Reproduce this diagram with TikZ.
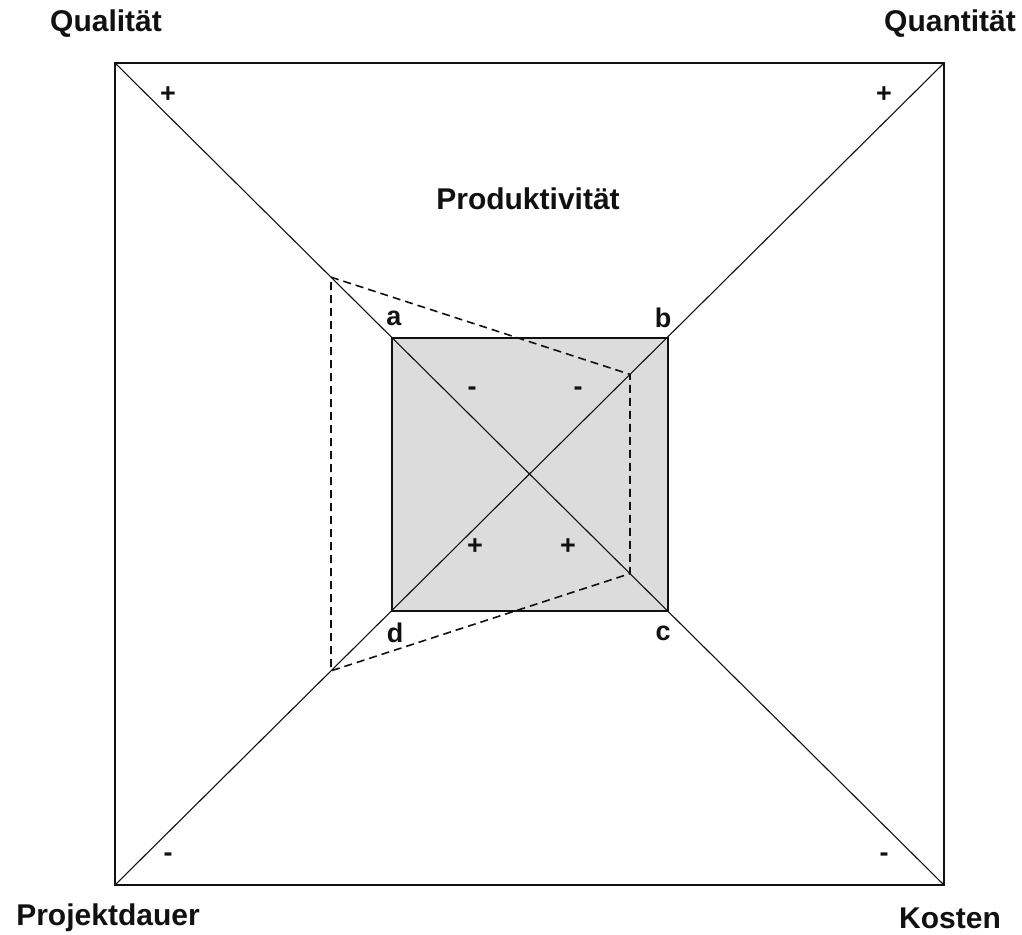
\documentclass[tikz,border=0pt]{standalone}
\usepackage{fontspec}
\setmainfont{Liberation Sans}
\usepackage{tikz}
\usepackage{xcolor}
\usetikzlibrary{positioning, calc}
\definecolor{boxgrey}{HTML}{DCDCDC}
\definecolor{ink}{HTML}{111111}

\begin{document}
\begin{tikzpicture}[x=1pt, y=-1pt,
    axislabel/.style={font=\fontsize{30}{32}\selectfont\bfseries, text=ink, inner sep=0pt},
    corner/.style={font=\fontsize{27}{28}\selectfont\bfseries, text=ink, inner sep=0pt},
    sign/.style={font=\fontsize{27}{28}\selectfont\bfseries, text=ink, inner sep=0pt},
    frame/.style={draw=ink, line width=2pt},
    diag/.style={draw=ink, line width=1.1pt},
    shiftline/.style={draw=ink, line width=1.6pt, dash pattern=on 8pt off 5pt}]
    \useasboundingbox (0,0) rectangle (1022,934);
    % outer corners
    \coordinate (ql) at (115,63);
    \coordinate (qn) at (944,63);
    \coordinate (ko) at (944,885);
    \coordinate (pd) at (115,885);
    % inner square
    \coordinate (a) at (392,338);
    \coordinate (b) at (668,338);
    \coordinate (c) at (668,611);
    \coordinate (d) at (392,611);
    % shifted quadrilateral on the diagonals
    \coordinate (sa) at ($(ql)!0.2605!(ko)$);
    \coordinate (sb) at ($(qn)!0.3788!(pd)$);
    \coordinate (sc) at ($(ql)!0.6212!(ko)$);
    \coordinate (sd) at ($(qn)!0.7395!(pd)$);
    \fill[boxgrey] (a) rectangle (c);
    \draw[frame] (ql) -- (qn) -- (ko) -- (pd) -- cycle;
    \draw[diag] (ql) -- (ko);
    \draw[diag] (qn) -- (pd);
    \draw[frame] (a) -- (b) -- (c) -- (d) -- cycle;
    \draw[shiftline] (sa) -- (sb) -- (sc) -- (sd) -- cycle;
    % labels
    \node[axislabel] (lql) at (106,24) {Qualität};
    \node[axislabel] (lqn) at (950,24) {Quantität};
    \node[axislabel] (lpd) at (108,918) {Projektdauer};
    \node[axislabel] (lko) at (950,918) {Kosten};
    \node[axislabel] (lpr) at (528,199) {Produktivität};
    \node[corner] (la) at (394,318) {a};
    \node[corner] (lb) at (663,318) {b};
    \node[corner] (lc) at (663,633) {c};
    \node[corner] (ld) at (395,633) {d};
    \node[sign] (p1) at (168,95) {+};
    \node[sign] (p2) at (884,95) {+};
    \node[sign] (m1) at (168,857) {-};
    \node[sign] (m2) at (884,857) {-};
    \node[sign] (m3) at (472,391) {-};
    \node[sign] (m4) at (578,391) {-};
    \node[sign] (p3) at (475,547) {+};
    \node[sign] (p4) at (568,547) {+};
\end{tikzpicture}
\end{document}
